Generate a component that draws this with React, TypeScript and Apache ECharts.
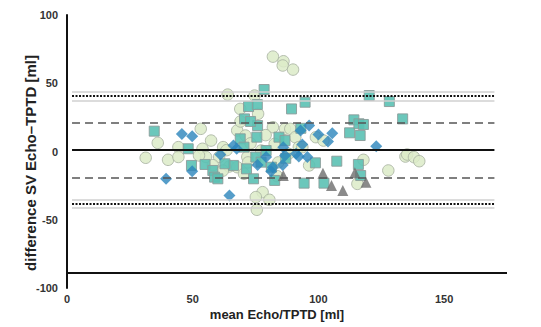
import React, { useEffect, useRef } from "react";
import * as echarts from "echarts";

const circleData: [number, number][] = [
  [81.9, 69.5], [86.1, 66.1], [85.8, 63], [89.9, 60], [63.9, 41.7], [74.6, 41],
  [68.9, 31.2], [76, 27.6], [53.2, 16.6], [36.1, 6.3], [31.3, -4.6], [40.2, -6.1],
  [44.3, 3.2], [44.3, -4], [53.9, 2], [57.3, 8], [67.7, 15.4], [71, 11.7],
  [81.9, 17.8], [86.7, 16.6], [88.8, 16.6], [90.8, 10.5], [92.2, 3.2], [99, 10.5],
  [96.3, -10.2], [127.8, -13.9], [117.9, -6.1], [115.5, -23.7], [134.6, -3.7],
  [135.3, -2.2], [138, -4.1], [140.1, -7.1], [77.8, -29.8], [75.1, -33.4],
  [80.5, -35.4], [75.5, -42.7], [62.1, 3.2], [63.5, 1], [60.5, -4], [64.5, -11],
  [55.3, -4], [52.5, -2.9], [71.7, -4], [67.7, -11.5], [70.4, -16.3], [77.2, 0.7],
  [82.6, 5.6], [88.1, -1.7], [93.6, 3.2], [73, 6], [79, 12], [84, -8], [58, -10],
  [62, -14], [72, -8], [83.5, -18], [102, 8], [69, 22]
];

const squareData: [number, number][] = [
  [34.7, 14.9], [48.2, 2], [49.5, -10.2], [54.9, -9.5], [58, -13.9], [58.7, -18.8],
  [60, -20], [66.2, -10.2], [70.6, 23.9], [72.2, 32.9], [75.7, 34.4], [78.4, 45.4],
  [71.4, -12.7], [74.2, -20], [75.5, 10.5], [75.8, 19], [75.1, -4.1], [79.2, 0.7],
  [84.3, 10.5], [82.6, -21.2], [89.3, 31.2], [94.7, 36.1], [94.3, -23.2], [98.8, -8.3],
  [102.2, -23.2], [107.3, -7.1], [112.4, 13.7], [114.1, 23.2], [116.1, 20.3],
  [117.9, 19.8], [116.6, 11.7], [115.9, -9.5], [116.8, -17.6], [120.2, 41],
  [128.2, 36.6], [133.5, 23.9], [68.9, 9.3], [70.4, 3.2], [62.8, -9], [77.2, -7.8],
  [81.3, -11.5], [86.7, 8], [93, 17], [73, 22], [87, -5]
];

const diamondData: [number, number][] = [
  [39.4, -20], [45.7, 12.9], [49.8, 11.2], [49.8, -14.4], [64.6, -32.2], [61, -2.2],
  [66.2, 4.4], [67.5, 2], [75.8, -9.8], [79.2, -4.1], [81.9, -11.5], [81.2, -14.4],
  [86, 3.2], [86.7, -2.9], [85.8, -9.8], [91.1, -1.7], [92.2, -3.7], [92.9, 15.4],
  [93.6, 5.1], [95.6, -4.1], [96.3, 19], [100, 12.4], [103.8, 7.3], [105.5, 13.4],
  [123, 3.9]
];

const triangleData: [number, number][] = [
  [86, -17.6], [101.8, -15.9], [105.2, -24.9], [109.7, -28.6], [114.5, -15.6], [118.9, -22.5]
];

const xTickInterval = 50;
const yTickInterval = 50;
const meanBias = 1;
const dashedLimits = [21, -19];
const dottedLimits = [40.5, -38.5];
const ciLines = [44, 37.5, -35.5, -41.5];
const xAxisCross = -89;
const refStart = 2;
const refEnd = 170;

export default function App() {
  const ref = useRef<HTMLDivElement>(null);
  useEffect(() => {
    if (!ref.current) return;
    const chart = echarts.init(ref.current, undefined, { renderer: "svg" });
    const font = "Liberation Sans, Arial, sans-serif";
    const hLine = (y: number) => [
      { coord: [refStart, y] },
      { coord: [refEnd, y] },
    ];
    const lineSeries = (data: any[], lineStyle: any) => ({
      type: "line",
      data: [],
      silent: true,
      markLine: {
        silent: true,
        symbol: "none",
        label: { show: false },
        lineStyle,
        data,
      },
    });
    chart.setOption({
      animation: false,
      backgroundColor: "#ffffff",
      grid: { left: 67, right: 34, top: 15, bottom: 39, containLabel: false },
      xAxis: {
        type: "value",
        min: 0,
        max: 175,
        interval: xTickInterval,
        axisLine: { show: false },
        axisTick: { show: false },
        splitLine: { show: false },
        axisLabel: {
          showMaxLabel: false,
          margin: 5,
          fontFamily: font,
          fontWeight: "bold",
          fontSize: 11,
          lineHeight: 11,
          color: "#333",
        },
      },
      yAxis: {
        type: "value",
        min: -100,
        max: 100,
        interval: yTickInterval,
        axisLine: { show: true, onZero: false, lineStyle: { color: "#111", width: 2 } },
        axisTick: { show: false },
        splitLine: { show: false },
        axisLabel: {
          margin: 9,
          fontFamily: font,
          fontWeight: "bold",
          fontSize: 11,
          color: "#333",
        },
      },
      graphic: [
        {
          type: "text",
          x: 30,
          y: 163,
          rotation: Math.PI / 2,
          style: {
            text: "difference SV Echo\u2013TPTD [ml]",
            font: `bold 15px ${font}`,
            fill: "#222",
            textAlign: "center",
            textVerticalAlign: "middle",
          },
        },
        {
          type: "text",
          x: 277,
          y: 314,
          style: {
            text: "mean Echo/TPTD [ml]",
            font: `bold 13px ${font}`,
            lineHeight: 13,
            fill: "#222",
            textAlign: "center",
            textVerticalAlign: "middle",
          },
        },
      ],
      series: [
        lineSeries(ciLines.map((y) => hLine(y)), { color: "#d0d0d0", width: 1.5, type: "solid" }),
        lineSeries(dottedLimits.map((y) => hLine(y)), { color: "#111", width: 2, type: [2, 1.5] }),
        lineSeries(dashedLimits.map((y) => hLine(y)), { color: "#555", width: 1.5, type: [8, 5] }),
        lineSeries(
          [hLine(meanBias), [{ coord: [0, xAxisCross] }, { coord: [175, xAxisCross] }]],
          { color: "#111", width: 2, type: "solid" }
        ),
        {
          type: "scatter",
          data: circleData,
          symbol: "circle",
          symbolSize: 11.5,
          itemStyle: { color: "#dcebc8", borderColor: "#a9b3a2", borderWidth: 1, opacity: 0.85 },
        },
        {
          type: "scatter",
          data: squareData,
          symbol: "rect",
          symbolSize: 10,
          itemStyle: { color: "#5bc1b4", borderColor: "#8c9c9a", borderWidth: 1, opacity: 0.9 },
        },
        {
          type: "scatter",
          data: diamondData,
          symbol: "diamond",
          symbolSize: 12,
          itemStyle: { color: "#2a85bb" },
        },
        {
          type: "scatter",
          data: triangleData,
          symbol: "triangle",
          symbolSize: 11,
          itemStyle: { color: "#6d6d6d" },
        },
      ],
    });
    return () => chart.dispose();
  }, []);
  return (
    <div
      ref={ref}
      style={{ position: "fixed", left: 0, top: 0, width: 541, height: 327 }}
    />
  );
}
